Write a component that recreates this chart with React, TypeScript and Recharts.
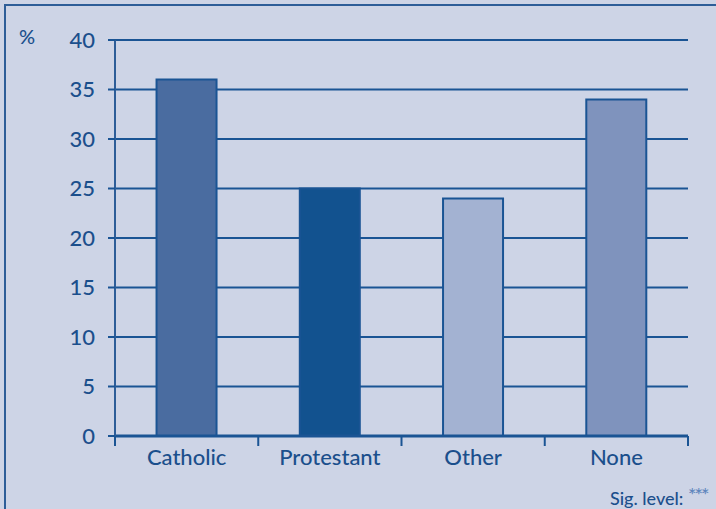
import { BarChart, Bar, XAxis, YAxis, CartesianGrid, Cell } from 'recharts';

const categories = ['Catholic', 'Protestant', 'Other', 'None'];
const values = [36, 25, 24, 34];
const barColors = ['#4a6ca0', '#12528f', '#a3b2d2', '#7f93bd'];
const yTicks = [0, 5, 10, 15, 20, 25, 30, 35, 40];

const data = categories.map((name, i) => ({ name, value: values[i] }));

const INK = '#1a5494';
const TEXT = '#1b4f8c';
const FONT = 'Lato, "Open Sans", sans-serif';

function CategoryTick(props: any) {
  const { x, y, payload, index } = props;
  const half = payload && payload.offset ? payload.offset : 71.6;
  const last = index === categories.length - 1;
  return (
    <g>
      <line x1={x - half} x2={x - half} y1={y - 8} y2={y + 2} stroke={INK} strokeWidth={2} />
      {last && (
        <line x1={x + half} x2={x + half} y1={y - 8} y2={y + 2} stroke={INK} strokeWidth={2} />
      )}
      <text
        x={x}
        y={y + 21}
        textAnchor="middle"
        fill={TEXT}
        fontSize={22}
        fontWeight={500}
        fontFamily={FONT}
      >
        {payload.value}
      </text>
    </g>
  );
}

export default function App() {
  return (
    <div
      style={{
        position: 'fixed',
        left: 0,
        top: 0,
        width: 716,
        height: 509,
        overflow: 'hidden',
        background: '#cdd4e6',
      }}
    >
      <div
        style={{
          position: 'absolute',
          left: 4,
          top: 4,
          width: 740,
          height: 540,
          border: '2px solid #2d5d98',
        }}
      />
      <div
        style={{
          position: 'absolute',
          left: 19,
          top: 24,
          color: TEXT,
          fontFamily: FONT,
          fontWeight: 500,
          fontSize: 20,
        }}
      >
        %
      </div>
      <div
        style={{
          position: 'absolute',
          left: 610,
          top: 485,
          color: TEXT,
          fontFamily: FONT,
          fontWeight: 500,
          fontSize: 18,
          whiteSpace: 'nowrap',
        }}
      >
        Sig. level:{' '}
        <span
          style={{
            fontSize: 20,
            color: '#5f86bd',
            position: 'relative',
            top: -3,
            letterSpacing: -2,
          }}
        >
          ***
        </span>
      </div>
      <div style={{ position: 'absolute', left: 0, top: 0 }}>
        <BarChart
          width={716}
          height={509}
          data={data}
          margin={{ top: 40, right: 28, left: 55, bottom: 43 }}
          barCategoryGap="29%"
        >
          <CartesianGrid horizontal vertical={false} stroke={INK} strokeWidth={2} />
          <XAxis
            dataKey="name"
            height={30}
            axisLine={{ stroke: INK, strokeWidth: 3 }}
            tickLine={false}
            tick={<CategoryTick />}
            interval={0}
          />
          <YAxis
            width={60}
            domain={[0, 40]}
            ticks={yTicks}
            interval={0}
            axisLine={{ stroke: '#2d5d98', strokeWidth: 2 }}
            tickLine={{ stroke: INK, strokeWidth: 2 }}
            tickSize={7}
            tickMargin={13}
            tick={{ fill: TEXT, fontSize: 22, fontWeight: 500, fontFamily: FONT }}
          />
          <YAxis
            yAxisId="right"
            orientation="right"
            width={0}
            domain={[0, 40]}
            tick={false}
            tickLine={false}
            axisLine={{ stroke: '#4573ab', strokeWidth: 2 }}
          />
          <Bar dataKey="value" stroke={INK} strokeWidth={2} isAnimationActive={false}>
            {data.map((d, i) => (
              <Cell key={d.name} fill={barColors[i]} />
            ))}
          </Bar>
        </BarChart>
      </div>
    </div>
  );
}
